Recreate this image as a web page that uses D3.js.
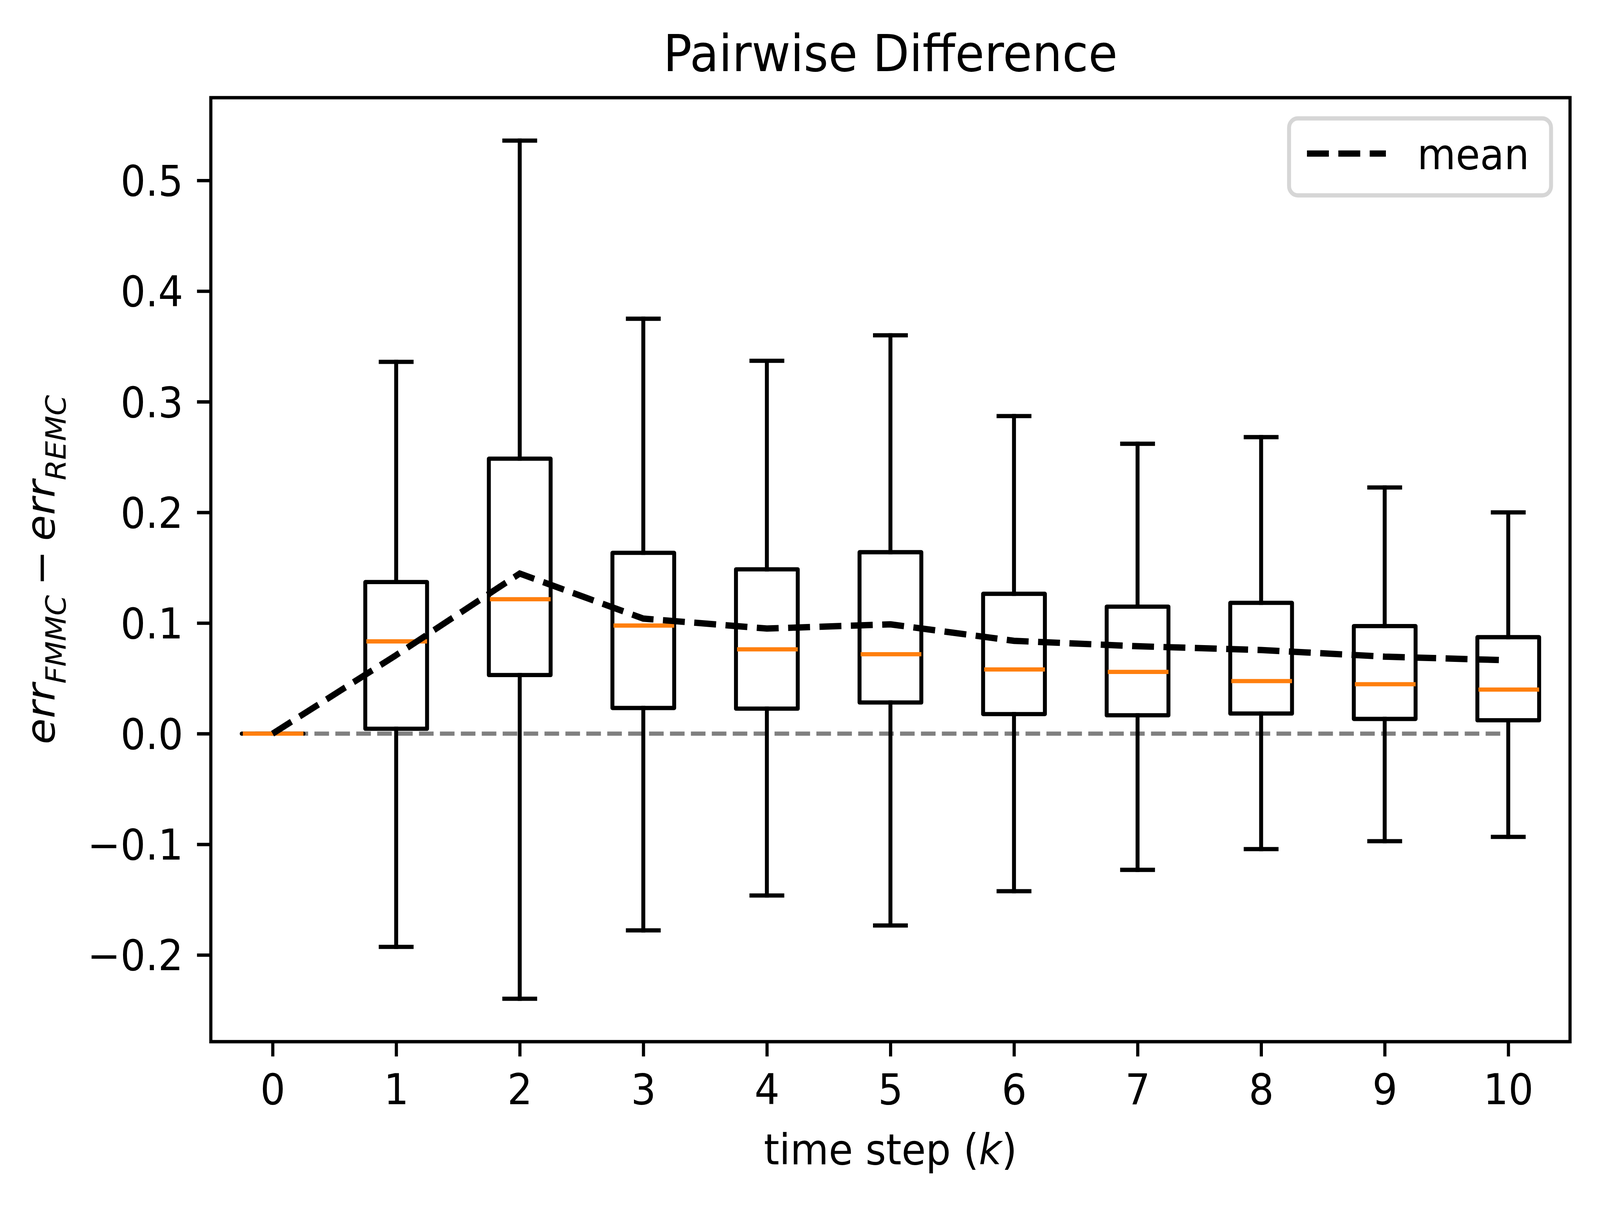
<!DOCTYPE html>
<html>
<head>
<meta charset="utf-8">
<script src="https://cdn.jsdelivr.net/npm/d3@7"></script>
<style>
  html, body { margin: 0; padding: 0; background: #fff; overflow: hidden; }
  svg { display: block; width: 100vw; height: 100vh; }
  text { font-family: "DejaVu Sans", sans-serif; }
</style>
</head>
<body>
<script>
// Box plot values, one entry per time step
var steps = [0, 1, 2, 3, 4, 5, 6, 7, 8, 9, 10];
var whiskerHigh = [0, 0.336, 0.536, 0.375, 0.337, 0.360, 0.287, 0.262, 0.268, 0.2225, 0.200];
var q3 = [0, 0.137, 0.2485, 0.1634, 0.1485, 0.164, 0.1264, 0.1148, 0.1182, 0.0972, 0.0872];
var medians = [0, 0.0834, 0.1215, 0.0977, 0.0762, 0.0718, 0.058, 0.0558, 0.0475, 0.0447, 0.0398];
var q1 = [0, 0.0044, 0.053, 0.0232, 0.0226, 0.0282, 0.0177, 0.0166, 0.0182, 0.0133, 0.0121];
var whiskerLow = [0, -0.1927, -0.2396, -0.1778, -0.1463, -0.1734, -0.1424, -0.1231, -0.1043, -0.0972, -0.0933];
var means = [0, 0.071, 0.1447, 0.104, 0.095, 0.0988, 0.0839, 0.079, 0.0756, 0.0696, 0.0663];

// Tick labels
var xTicks = steps;
var yTicks = [-0.2, -0.1, 0.0, 0.1, 0.2, 0.3, 0.4, 0.5];

// SVG area dimensions (1 pt is about 10.8 px at this size)
var svgWidth = 4379;
var svgHeight = 3084;
var pt = 10.8;

var margin = {
  top: 250,
  right: 82,
  bottom: 418,
  left: 577
};

var chartWidth = svgWidth - margin.left - margin.right;
var chartHeight = svgHeight - margin.top - margin.bottom;

// viewBox stretched over the whole window, so the layout fills it edge to edge
var svg = d3.select("body")
  .append("svg")
  .attr("viewBox", `0 0 ${svgWidth} ${svgHeight}`)
  .attr("preserveAspectRatio", "none")
  .style("background", "#fff");

var chartGroup = svg.append("g")
  .attr("transform", `translate(${margin.left}, ${margin.top})`);

// Scales: x like matplotlib boxplot (positions with half-unit padding),
// y with 5% margins around the data range
var xScale = d3.scaleLinear()
  .domain([-0.5, 10.5])
  .range([0, chartWidth]);

var yMin = d3.min(whiskerLow);
var yMax = d3.max(whiskerHigh);
var yPad = (yMax - yMin) * 0.05;
var yScale = d3.scaleLinear()
  .domain([yMin - yPad, yMax + yPad])
  .range([chartHeight, 0]);

var boxWidth = xScale(0.5) - xScale(0);
var capWidth = xScale(0.25) - xScale(0);

var fmt = function(d) {
  var s = Math.abs(d).toFixed(1);
  return d < -1e-9 ? "\u2212" + s : s;
};

// Axes
var leftAxis = d3.axisLeft(yScale)
  .tickValues(yTicks)
  .tickSize(3.5 * pt)
  .tickPadding(3.5 * pt)
  .tickFormat(fmt);

var bottomAxis = d3.axisBottom(xScale)
  .tickValues(xTicks)
  .tickSize(3.5 * pt)
  .tickPadding(3.5 * pt)
  .tickFormat(d => String(d));

var yAxisG = chartGroup.append("g").call(leftAxis);
var xAxisG = chartGroup.append("g")
  .attr("transform", `translate(0, ${chartHeight})`)
  .call(bottomAxis);

[yAxisG, xAxisG].forEach(function(g) {
  g.attr("font-size", 108).attr("font-family", "DejaVu Sans");
  g.select(".domain").remove();
  g.selectAll(".tick line").attr("stroke", "#000").attr("stroke-width", 0.8 * pt);
  g.selectAll(".tick text").attr("fill", "#000");
});
yAxisG.selectAll(".tick text").attr("dy", "0.36em");
xAxisG.selectAll(".tick text").attr("dy", "0.78em");

// Zero reference line
var zeroLine = d3.line()
  .x(d => xScale(d))
  .y(() => yScale(0));

chartGroup.append("path")
  .attr("d", zeroLine([steps[0], steps[steps.length - 1]]))
  .attr("fill", "none")
  .attr("stroke", "#808080")
  .attr("stroke-width", 1 * pt)
  .attr("stroke-dasharray", `${3.7 * pt},${1.6 * pt}`);

// Boxes
var boxes = chartGroup.selectAll("g.box")
  .data(steps)
  .enter()
  .append("g")
  .classed("box", true);

// whiskers
boxes.append("line")
  .attr("x1", d => xScale(d)).attr("x2", d => xScale(d))
  .attr("y1", (d, i) => yScale(q1[i])).attr("y2", (d, i) => yScale(whiskerLow[i]));
boxes.append("line")
  .attr("x1", d => xScale(d)).attr("x2", d => xScale(d))
  .attr("y1", (d, i) => yScale(q3[i])).attr("y2", (d, i) => yScale(whiskerHigh[i]));

// caps
boxes.append("line")
  .attr("x1", d => xScale(d) - capWidth / 2).attr("x2", d => xScale(d) + capWidth / 2)
  .attr("y1", (d, i) => yScale(whiskerLow[i])).attr("y2", (d, i) => yScale(whiskerLow[i]));
boxes.append("line")
  .attr("x1", d => xScale(d) - capWidth / 2).attr("x2", d => xScale(d) + capWidth / 2)
  .attr("y1", (d, i) => yScale(whiskerHigh[i])).attr("y2", (d, i) => yScale(whiskerHigh[i]));

boxes.selectAll("line")
  .attr("stroke", "#000")
  .attr("stroke-width", 1 * pt)
  .attr("stroke-linecap", "square");

// box outline
boxes.append("path")
  .attr("d", function(d, i) {
    var x0 = xScale(d) - boxWidth / 2, x1 = xScale(d) + boxWidth / 2;
    var yb = yScale(q1[i]), yt = yScale(q3[i]);
    return `M${x0},${yb}L${x1},${yb}L${x1},${yt}L${x0},${yt}Z`;
  })
  .attr("fill", "none")
  .attr("stroke", "#000")
  .attr("stroke-width", 1 * pt)
  .attr("stroke-linejoin", "round");

// medians
boxes.append("line")
  .attr("x1", d => xScale(d) - boxWidth / 2 + 3).attr("x2", d => xScale(d) + boxWidth / 2)
  .attr("y1", (d, i) => yScale(medians[i])).attr("y2", (d, i) => yScale(medians[i]))
  .attr("stroke", "#ff7f0e")
  .attr("stroke-width", 1 * pt);

// Mean line
var drawLine = d3.line()
  .x((d, i) => xScale(steps[i]))
  .y(d => yScale(d));

chartGroup.append("path")
  .attr("d", drawLine(means))
  .attr("fill", "none")
  .attr("stroke", "#000")
  .attr("stroke-width", 1.5 * pt)
  .attr("stroke-dasharray", `${3.7 * 1.5 * pt},${1.6 * 1.5 * pt}`);

// Spines
chartGroup.append("rect")
  .attr("width", chartWidth)
  .attr("height", chartHeight)
  .attr("fill", "none")
  .attr("stroke", "#000")
  .attr("stroke-width", 0.8 * pt);

// Legend
var legend = chartGroup.append("g")
  .attr("transform", `translate(${chartWidth - 769}, 53)`);

legend.append("rect")
  .attr("width", 717)
  .attr("height", 197)
  .attr("rx", 24)
  .attr("fill", "#fff")
  .attr("fill-opacity", 0.8)
  .attr("stroke", "#cccccc")
  .attr("stroke-opacity", 0.8)
  .attr("stroke-width", 1 * pt);

legend.append("line")
  .attr("x1", 49).attr("x2", 49 + 216)
  .attr("y1", 90).attr("y2", 90)
  .attr("stroke", "#000")
  .attr("stroke-width", 1.5 * pt)
  .attr("stroke-dasharray", `${3.7 * 1.5 * pt},${1.6 * 1.5 * pt}`);

legend.append("text")
  .attr("x", 351)
  .attr("y", 130)
  .attr("font-size", 108)
  .attr("fill", "#000")
  .text("mean");

// Title
svg.append("text")
  .attr("x", margin.left + chartWidth / 2)
  .attr("y", 182)
  .attr("text-anchor", "middle")
  .attr("font-size", 130)
  .attr("fill", "#000")
  .text("Pairwise Difference");

// X axis label
var xLabel = svg.append("text")
  .attr("x", margin.left + chartWidth / 2)
  .attr("y", 2980)
  .attr("text-anchor", "middle")
  .attr("font-size", 108)
  .attr("fill", "#000");
xLabel.append("tspan").text("time step (");
xLabel.append("tspan").attr("font-style", "italic").text("k");
xLabel.append("tspan").text(")");

// Y axis label (mathtext-like)
var yLabel = svg.append("text")
  .attr("transform", `translate(150, ${margin.top + chartHeight / 2}) rotate(-90)`)
  .attr("text-anchor", "middle")
  .attr("font-size", 108)
  .attr("fill", "#000");
yLabel.append("tspan").attr("font-style", "italic").text("err");
yLabel.append("tspan").attr("font-style", "italic").attr("font-size", 75.6).attr("dy", 30).text("FMMC");
yLabel.append("tspan").attr("dy", -30).attr("dx", 24).text("\u2212");
yLabel.append("tspan").attr("font-style", "italic").attr("dx", 24).text("err");
yLabel.append("tspan").attr("font-style", "italic").attr("font-size", 75.6).attr("dy", 30).text("REMC");
</script>
</body>
</html>
